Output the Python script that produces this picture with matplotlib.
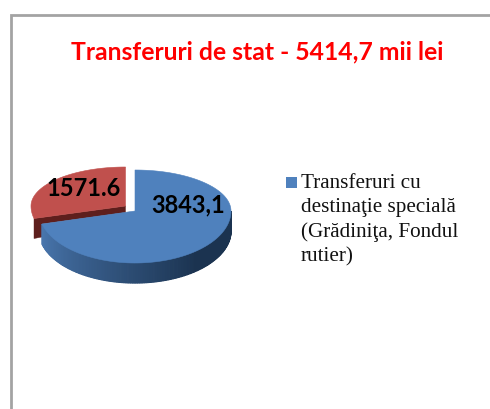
import numpy as np
import matplotlib
matplotlib.use("Agg")
import matplotlib.pyplot as plt
from matplotlib.colors import to_rgb
from matplotlib.patches import Polygon, Rectangle

title = "Transferuri de stat - 5414,7 mii lei"
values = [3843.1, 1571.6]
value_labels = ["3843,1", "1571.6"]
legend_lines = ["Transferuri cu", "destinaţie specială", "(Grădiniţa, Fondul", "rutier)"]
BLUE = "#4f81bd"
RED = "#c0504d"

def arc(cx, cy, rx, ry_up, ry_down, a0, a1, n=120):
    # angles in degrees, counter clockwise, y axis of the picture points down
    t = np.radians(np.linspace(a0, a1, n))
    s = np.sin(t)
    y = cy - np.where(s > 0, ry_up, ry_down) * s
    return np.column_stack([cx + rx * np.cos(t), y])

def mix(c1, c2, f):
    return tuple(np.array(to_rgb(c1)) * (1 - f) + np.array(to_rgb(c2)) * f)

fig = plt.figure(figsize=(4.9, 4.09), dpi=100)
ax = fig.add_axes([0, 0, 1, 1])
ax.set_xlim(0, 490)
ax.set_ylim(409, 0)
ax.axis("off")

# frame, runs off the right and bottom of the crop
ax.plot([10.5, 10.5, 490], [409, 15, 15], color="#a3a3a3", lw=2, solid_joinstyle="miter")

total = sum(values)
sweep = 360 * values[0] / total
blue_end = 90 - sweep  # clockwise from the top

# blue slice
cx, cy, rx, up, down = 135, 211, 96, 41, 52
depth = 20
side_a = np.linspace(blue_end, 0, 160)
for a0, a1 in zip(side_a[:-1], side_a[1:]):
    top = arc(cx, cy, rx, up, down, a0, a1, 4)
    bot = top + [0, depth]
    mid = (a0 + a1) / 2
    f = np.clip((mid - blue_end) / (-50 - blue_end), 0, 1)
    col = mix("#4a78b0", "#1b3350", f)
    ax.add_patch(Polygon(np.vstack([top, bot[::-1]]), fc=col, ec=col, lw=0.9, zorder=2))
blue_top = np.vstack([[cx, cy], arc(cx, cy, rx, up, down, blue_end, 90)])
ax.add_patch(Polygon(blue_top, fc=BLUE, ec=BLUE, lw=0.4, zorder=3))

# red slice, pulled out to the upper left
rcx, rcy, rrx, rup, rdown = 125.5, 206, 94.5, 39, 50
red_pts = arc(rcx, rcy, rrx, rup, rdown, 90, 90 + 360 - sweep)
end_pt = red_pts[-1]
cut = [[rcx, rcy], end_pt, end_pt + [0, 20], [42, 237], [42, 224], [rcx, 212.5]]
ax.add_patch(Polygon(cut, fc="#5e1f1d", ec="#5e1f1d", lw=0.3, zorder=1))
ax.add_patch(Polygon(np.vstack([[rcx, rcy], red_pts]), fc=RED, ec=RED, lw=0.4, zorder=3))

# value labels
ax.text(188.5, 205, value_labels[0], fontfamily="Lato", fontweight="bold", fontsize=17,
        color="black", ha="center", va="center", zorder=5)
ax.text(84, 188, value_labels[1], fontfamily="Lato", fontweight="bold", fontsize=17,
        color="black", ha="center", va="center", zorder=5)

ax.text(257, 52, title, fontfamily="Lato", fontweight="bold", fontsize=17.8,
        color="#ff0000", ha="center", va="center")

# legend
ax.add_patch(Rectangle((286, 177), 11, 11, fc=BLUE, ec="none"))
for i, line in enumerate(legend_lines):
    ax.text(301, 183 + i * 24.6, line, fontfamily="Liberation Serif", fontsize=15.2,
            color="#111111", ha="left", va="center")

fig.savefig("out.png", dpi=100)
